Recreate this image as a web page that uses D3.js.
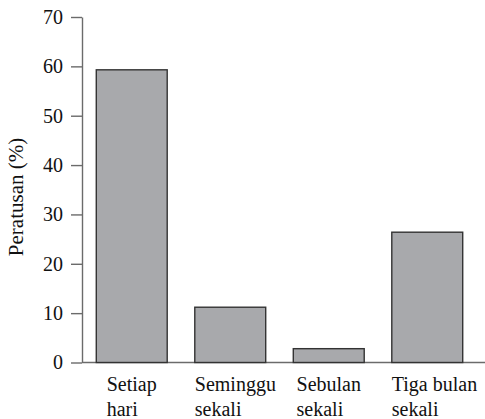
<!DOCTYPE html>
<html>
<head>
<meta charset="utf-8">
<script src="https://cdn.jsdelivr.net/npm/d3@7"></script>
<style>
  body { margin: 0; background: #fff; }
</style>
</head>
<body>
<div id="chart"></div>
<script>
// data
const categories = [['Setiap', 'hari'], ['Seminggu', 'sekali'], ['Sebulan', 'sekali'], ['Tiga bulan', 'sekali']];
const values = [59.3, 11.2, 2.8, 26.4];
const yTicks = [0, 10, 20, 30, 40, 50, 60, 70];
const yTitle = 'Peratusan (%)';

const serif = "'Liberation Serif', 'Times New Roman', serif";
const width = 485, height = 419;
const margin = {t: 17, r: 8, b: 56.5, l: 82};
const h = height - margin.t - margin.b;

const svg = d3.select('#chart').append('svg')
    .attr('width', width)
    .attr('height', height)
    .style('font-family', serif);

const plot = svg.append('g')
    .attr('transform', `translate(${margin.l},${margin.t})`);

const x = d3.scaleBand()
    .domain(d3.range(categories.length))
    .range([0, 395])
    .paddingInner(0.28)
    .paddingOuter(0.145);

const y = d3.scaleLinear()
    .domain([0, 70])
    .range([h, 0]);

// y axis
const axisY = d3.axisLeft(y)
    .tickValues(yTicks)
    .tickSize(11)
    .tickSizeOuter(0)
    .tickPadding(8);

const gy = plot.append('g').attr('class', 'axis-y').call(axisY)
    .attr('font-family', null)
    .attr('font-size', 20);
gy.selectAll('path, line').attr('stroke', '#6b6b6b').attr('stroke-width', 1.4);
gy.selectAll('text').attr('fill', '#111').style('font-family', serif);

// x baseline
plot.append('line')
    .attr('x1', 0).attr('x2', width - margin.l)
    .attr('y1', y(0)).attr('y2', y(0))
    .attr('stroke', '#6b6b6b').attr('stroke-width', 1.4);

// bars
plot.selectAll('.bin')
    .data(values)
    .enter()
    .append('rect')
    .attr('class', 'bin')
    .attr('x', (d, i) => x(i))
    .attr('width', x.bandwidth())
    .attr('y', d => y(d))
    .attr('height', d => y(0) - y(d))
    .attr('fill', '#a8a9ac')
    .attr('stroke', '#333')
    .attr('stroke-width', 1.4);

// category labels: left aligned lines, block centred under bar unless that starts left of the bar
const labels = plot.selectAll('.cat')
    .data(categories)
    .enter()
    .append('text')
    .attr('class', 'cat')
    .style('font-family', serif)
    .attr('font-size', 20)
    .attr('fill', '#111')
    .attr('y', y(0) + 28);

labels.selectAll('tspan')
    .data(d => d)
    .enter()
    .append('tspan')
    .attr('dy', (d, i) => i ? 25 : 0)
    .text(d => d);

labels.each(function(d, i) {
    const spans = d3.select(this).selectAll('tspan');
    const bw = d3.max(spans.nodes(), n => n.getComputedTextLength());
    const cx = x(i) + x.bandwidth() / 2;
    const x0 = Math.max(x(i), cx - bw / 2);
    spans.attr('x', x0);
});

// y title
svg.append('text')
    .attr('transform', `translate(23,197) rotate(-90)`)
    .attr('text-anchor', 'middle')
    .style('font-family', serif)
    .attr('font-size', 21)
    .attr('fill', '#111')
    .text(yTitle);
</script>
</body>
</html>
